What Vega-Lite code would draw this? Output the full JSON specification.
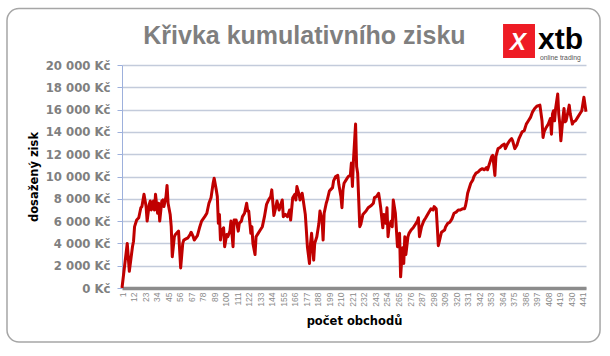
{
  "$schema": "https://vega.github.io/schema/vega-lite/v6.json",
  "autosize": "none",
  "width": 464,
  "height": 223,
  "padding": {"left": 122, "top": 65, "right": 24, "bottom": 68},
  "background": "white",
  "config": {"view": {"stroke": null}},
  "resolve": {"axis": {"x": "independent", "y": "independent"}},
  "layer": [
    {
      "data": {"values": [
        {"n":1,"zisk":0},{"n":6,"zisk":4000},{"n":8,"zisk":1500},{"n":11,"zisk":3700},{"n":12,"zisk":4200},{"n":13,"zisk":5500},{"n":15,"zisk":6100},{"n":17,"zisk":6300},{"n":19,"zisk":7200},{"n":20,"zisk":7300},
        {"n":22,"zisk":8400},{"n":24,"zisk":7300},{"n":25,"zisk":6000},{"n":27,"zisk":7500},{"n":28,"zisk":7800},{"n":29,"zisk":7000},{"n":31,"zisk":7800},{"n":32,"zisk":7000},{"n":33,"zisk":8400},{"n":35,"zisk":6700},
        {"n":36,"zisk":7600},{"n":37,"zisk":6000},{"n":39,"zisk":7800},{"n":40,"zisk":7900},{"n":41,"zisk":7300},{"n":43,"zisk":8200},{"n":44,"zisk":9200},{"n":45,"zisk":7600},{"n":47,"zisk":6600},{"n":48,"zisk":5500},
        {"n":49,"zisk":2800},{"n":51,"zisk":4600},{"n":52,"zisk":4800},{"n":55,"zisk":5100},{"n":57,"zisk":1800},{"n":59,"zisk":4000},{"n":60,"zisk":4300},{"n":62,"zisk":4400},{"n":64,"zisk":4500},{"n":66,"zisk":4800},
        {"n":67,"zisk":5000},{"n":69,"zisk":4600},{"n":70,"zisk":4300},{"n":73,"zisk":4700},{"n":75,"zisk":5400},{"n":77,"zisk":6000},{"n":80,"zisk":6400},{"n":82,"zisk":6700},{"n":84,"zisk":7600},{"n":86,"zisk":8100},
        {"n":88,"zisk":9400},{"n":89,"zisk":9850},{"n":91,"zisk":8800},{"n":92,"zisk":8200},{"n":93,"zisk":5800},{"n":94,"zisk":6600},{"n":95,"zisk":4300},{"n":96,"zisk":5100},{"n":98,"zisk":5400},{"n":99,"zisk":3700},
        {"n":101,"zisk":4800},{"n":102,"zisk":4600},{"n":104,"zisk":5100},{"n":105,"zisk":6000},{"n":107,"zisk":3700},{"n":108,"zisk":6100},{"n":110,"zisk":6100},{"n":112,"zisk":5100},{"n":113,"zisk":5800},{"n":115,"zisk":6000},
        {"n":116,"zisk":6400},{"n":118,"zisk":6700},{"n":120,"zisk":7600},{"n":121,"zisk":6900},{"n":122,"zisk":6900},{"n":124,"zisk":4900},{"n":125,"zisk":5500},{"n":126,"zisk":4000},{"n":128,"zisk":3000},{"n":129,"zisk":4600},
        {"n":131,"zisk":4900},{"n":133,"zisk":5200},{"n":135,"zisk":5500},{"n":137,"zisk":6400},{"n":139,"zisk":7500},{"n":141,"zisk":7900},{"n":143,"zisk":8200},{"n":144,"zisk":8800},{"n":146,"zisk":6500},{"n":148,"zisk":7300},
        {"n":149,"zisk":7800},{"n":151,"zisk":7000},{"n":153,"zisk":7600},{"n":154,"zisk":7900},{"n":155,"zisk":6400},{"n":157,"zisk":6600},{"n":159,"zisk":6400},{"n":161,"zisk":7000},{"n":162,"zisk":6100},{"n":164,"zisk":8100},
        {"n":166,"zisk":8400},{"n":167,"zisk":7900},{"n":168,"zisk":9100},{"n":170,"zisk":8400},{"n":171,"zisk":7900},{"n":173,"zisk":8500},{"n":174,"zisk":7900},{"n":176,"zisk":6600},{"n":177,"zisk":5200},{"n":178,"zisk":3700},
        {"n":180,"zisk":2200},{"n":181,"zisk":4000},{"n":182,"zisk":4900},{"n":184,"zisk":2500},{"n":185,"zisk":4000},{"n":187,"zisk":4600},{"n":189,"zisk":5800},{"n":190,"zisk":6900},{"n":192,"zisk":6100},{"n":193,"zisk":4300},
        {"n":194,"zisk":6700},{"n":196,"zisk":7600},{"n":197,"zisk":7900},{"n":199,"zisk":8700},{"n":200,"zisk":8800},{"n":202,"zisk":9000},{"n":203,"zisk":9600},{"n":205,"zisk":10000},{"n":207,"zisk":10100},{"n":208,"zisk":9300},
        {"n":210,"zisk":8200},{"n":211,"zisk":7200},{"n":212,"zisk":8800},{"n":213,"zisk":9400},{"n":215,"zisk":9700},{"n":217,"zisk":10000},{"n":219,"zisk":10100},{"n":220,"zisk":11200},{"n":221,"zisk":9100},{"n":222,"zisk":11500},
        {"n":224,"zisk":14700},{"n":225,"zisk":10900},{"n":226,"zisk":10300},{"n":227,"zisk":7900},{"n":228,"zisk":5500},{"n":229,"zisk":5700},{"n":231,"zisk":6600},{"n":234,"zisk":6900},{"n":236,"zisk":7200},{"n":239,"zisk":7400},
        {"n":241,"zisk":7600},{"n":242,"zisk":8100},{"n":244,"zisk":8200},{"n":246,"zisk":8500},{"n":247,"zisk":7900},{"n":248,"zisk":7200},{"n":250,"zisk":5400},{"n":251,"zisk":6600},{"n":253,"zisk":5800},{"n":254,"zisk":7200},
        {"n":255,"zisk":4600},{"n":256,"zisk":5500},{"n":258,"zisk":6000},{"n":259,"zisk":5500},{"n":260,"zisk":7900},{"n":262,"zisk":6700},{"n":263,"zisk":5200},{"n":264,"zisk":3700},{"n":265,"zisk":3700},{"n":266,"zisk":4900},
        {"n":267,"zisk":1000},{"n":268,"zisk":2500},{"n":269,"zisk":3600},{"n":270,"zisk":2200},{"n":271,"zisk":4600},{"n":272,"zisk":3000},{"n":274,"zisk":4600},{"n":275,"zisk":4900},{"n":277,"zisk":5200},{"n":279,"zisk":5400},
        {"n":281,"zisk":5700},{"n":283,"zisk":6000},{"n":284,"zisk":6300},{"n":285,"zisk":4600},{"n":287,"zisk":5500},{"n":289,"zisk":6000},{"n":291,"zisk":6300},{"n":294,"zisk":6800},{"n":296,"zisk":7100},{"n":298,"zisk":7000},
        {"n":299,"zisk":7300},{"n":301,"zisk":7100},{"n":302,"zisk":5500},{"n":303,"zisk":3800},{"n":305,"zisk":4600},{"n":306,"zisk":5000},{"n":309,"zisk":5200},{"n":310,"zisk":5500},{"n":312,"zisk":5800},{"n":314,"zisk":5900},
        {"n":316,"zisk":6200},{"n":318,"zisk":6700},{"n":320,"zisk":6800},{"n":322,"zisk":7000},{"n":324,"zisk":7000},{"n":326,"zisk":7100},{"n":328,"zisk":7100},{"n":329,"zisk":7400},{"n":330,"zisk":7900},{"n":331,"zisk":8500},
        {"n":333,"zisk":9100},{"n":334,"zisk":9400},{"n":336,"zisk":9700},{"n":337,"zisk":10000},{"n":339,"zisk":10300},{"n":341,"zisk":10400},{"n":343,"zisk":10600},{"n":345,"zisk":10700},{"n":347,"zisk":10600},{"n":349,"zisk":10800},
        {"n":350,"zisk":10600},{"n":352,"zisk":11200},{"n":354,"zisk":11800},{"n":355,"zisk":11900},{"n":356,"zisk":11000},{"n":357,"zisk":10100},{"n":358,"zisk":11800},{"n":360,"zisk":12500},{"n":362,"zisk":12600},{"n":364,"zisk":12800},
        {"n":366,"zisk":12900},{"n":367,"zisk":12500},{"n":369,"zisk":12900},{"n":371,"zisk":13200},{"n":373,"zisk":13400},{"n":374,"zisk":13200},{"n":376,"zisk":12500},{"n":378,"zisk":12800},{"n":380,"zisk":13400},{"n":381,"zisk":13600},
        {"n":383,"zisk":14000},{"n":385,"zisk":14100},{"n":387,"zisk":14700},{"n":389,"zisk":15000},{"n":391,"zisk":15300},{"n":393,"zisk":15800},{"n":395,"zisk":16100},{"n":397,"zisk":16300},{"n":400,"zisk":16400},{"n":402,"zisk":15000},
        {"n":403,"zisk":13500},{"n":404,"zisk":14000},{"n":406,"zisk":14400},{"n":408,"zisk":14700},{"n":410,"zisk":15200},{"n":411,"zisk":13800},{"n":412,"zisk":15600},{"n":413,"zisk":15900},{"n":414,"zisk":15000},{"n":415,"zisk":16100},
        {"n":417,"zisk":17400},{"n":418,"zisk":15600},{"n":419,"zisk":14700},{"n":420,"zisk":13200},{"n":422,"zisk":15300},{"n":423,"zisk":16100},{"n":424,"zisk":14900},{"n":425,"zisk":15000},{"n":427,"zisk":15900},{"n":428,"zisk":16400},
        {"n":429,"zisk":15600},{"n":431,"zisk":14700},{"n":432,"zisk":14900},{"n":434,"zisk":15000},{"n":436,"zisk":15300},{"n":438,"zisk":15600},{"n":440,"zisk":15900},{"n":442,"zisk":17100},{"n":444,"zisk":15800}
      ]},
      "mark": {"type": "line", "color": "#c00000", "strokeWidth": 3, "strokeJoin": "round"},
      "encoding": {
        "x": {
          "field": "n", "type": "quantitative",
          "scale": {"domain": [1, 444], "nice": false, "zero": false},
          "axis": {
            "title": "počet obchodů",
            "values": [1,12,23,34,45,56,67,78,89,100,111,122,133,144,155,166,177,188,199,210,221,232,243,254,265,276,287,298,309,320,331,342,353,364,375,386,397,408,419,430,441],
            "format": "d",
            "labelAngle": -90,
            "labelAlign": "right",
            "labelBaseline": "middle",
            "labelFont": "Liberation Sans",
            "labelFontSize": 8.5,
            "labelColor": "#8a8a8a",
            "labelPadding": 4,
            "labelOverlap": false,
            "labelFlush": false,
            "ticks": false,
            "grid": false,
            "domainColor": "#8c8c8c",
            "domainWidth": 3.5,
            "titleFont": "DejaVu Sans",
            "titleFontSize": 11.5,
            "titleFontWeight": "bold",
            "titleColor": "black",
            "titlePadding": 9
          }
        },
        "y": {
          "field": "zisk", "type": "quantitative",
          "scale": {"domain": [0, 20000], "nice": false},
          "axis": {
            "title": "dosažený zisk",
            "values": [0,2000,4000,6000,8000,10000,12000,14000,16000,18000,20000],
            "labelExpr": "replace(format(datum.value, ','), ',', ' ') + ' Kč'",
            "labelFont": "DejaVu Sans",
            "labelFontSize": 11.7,
            "labelFontWeight": "bold",
            "labelColor": "#808080",
            "labelPadding": 7,
            "labelOverlap": false,
            "tickSize": 5,
            "tickColor": "#9db0dc",
            "domainColor": "#9db0dc",
            "grid": true,
            "gridColor": "#c3cbdb",
            "gridWidth": 1.5,
            "titleFont": "DejaVu Sans",
            "titleFontSize": 11.5,
            "titleFontWeight": "bold",
            "titleColor": "black",
            "titlePadding": 6
          }
        }
      }
    },
    {
      "data": {"values": [{"k": "frame"}]},
      "mark": {"type": "rect", "filled": false, "stroke": "#a6a6a6", "strokeWidth": 1.5, "cornerRadius": 12},
      "encoding": {
        "x": {"datum": -108.8, "type": "quantitative", "scale": {"domain": [1, 444], "nice": false, "zero": false}, "axis": null},
        "x2": {"datum": 457.4},
        "y": {"datum": 25067, "type": "quantitative", "scale": {"domain": [0, 20000], "nice": false}, "axis": null},
        "y2": {"datum": -4843}
      }
    },
    {
      "data": {"values": [{"k": "logo"}]},
      "mark": {"type": "rect", "fill": "#ee1c25"},
      "encoding": {
        "x": {"datum": 364.8, "type": "quantitative", "scale": {"domain": [1, 444], "nice": false, "zero": false}, "axis": null},
        "x2": {"datum": 395.3},
        "y": {"datum": 23677, "type": "quantitative", "scale": {"domain": [0, 20000], "nice": false}, "axis": null},
        "y2": {"datum": 20628}
      }
    },
    {
      "data": {"values": [{"t": "X"}]},
      "mark": {"type": "text", "font": "Liberation Sans", "fontSize": 24, "fontWeight": "bold", "fontStyle": "italic", "color": "white", "align": "center", "baseline": "middle"},
      "encoding": {
        "text": {"field": "t"},
        "x": {"datum": 379, "type": "quantitative", "scale": {"domain": [1, 444], "nice": false, "zero": false}, "axis": null},
        "y": {"datum": 22000, "type": "quantitative", "scale": {"domain": [0, 20000], "nice": false}, "axis": null}
      }
    },
    {
      "data": {"values": [{"t": "xtb"}]},
      "mark": {"type": "text", "font": "Liberation Sans", "fontSize": 30, "fontWeight": "bold", "color": "black", "align": "left", "baseline": "alphabetic"},
      "encoding": {
        "text": {"field": "t"},
        "x": {"datum": 398.2, "type": "quantitative", "scale": {"domain": [1, 444], "nice": false, "zero": false}, "axis": null},
        "y": {"datum": 21450, "type": "quantitative", "scale": {"domain": [0, 20000], "nice": false}, "axis": null}
      }
    },
    {
      "data": {"values": [{"t": "online trading"}]},
      "mark": {"type": "text", "font": "Liberation Sans", "fontSize": 6.8, "color": "#555555", "align": "left", "baseline": "alphabetic"},
      "encoding": {
        "text": {"field": "t"},
        "x": {"datum": 400, "type": "quantitative", "scale": {"domain": [1, 444], "nice": false, "zero": false}, "axis": null},
        "y": {"datum": 20470, "type": "quantitative", "scale": {"domain": [0, 20000], "nice": false}, "axis": null}
      }
    },
    {
      "data": {"values": [{"t": "Křivka kumulativního zisku"}]},
      "mark": {"type": "text", "font": "Liberation Sans", "fontSize": 25, "fontWeight": "bold", "color": "#7f7f7f", "align": "center", "baseline": "alphabetic"},
      "encoding": {
        "text": {"field": "t"},
        "x": {"datum": 175.2, "type": "quantitative", "scale": {"domain": [1, 444], "nice": false, "zero": false}, "axis": null},
        "y": {"datum": 21900, "type": "quantitative", "scale": {"domain": [0, 20000], "nice": false}, "axis": null}
      }
    }
  ]
}
